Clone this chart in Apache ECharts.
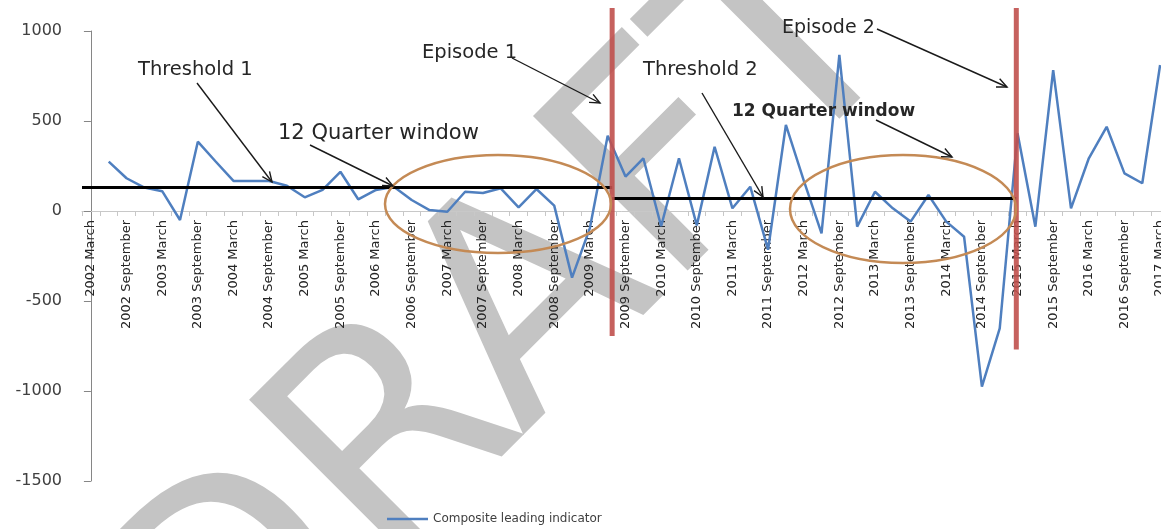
<!DOCTYPE html>
<html><head><meta charset="utf-8">
<script src="https://cdn.jsdelivr.net/npm/echarts@6/dist/echarts.min.js"></script>
<style>html,body{margin:0;padding:0;background:#fff}#c{width:1161px;height:529px}</style>
</head><body><div id="c"></div>
<script>
// ---- data ----
const years = [2002,2003,2004,2005,2006,2007,2008,2009,2010,2011,2012,2013,2014,2015,2016,2017];
const quarterMonths = ['March','June','September','December'];
const lastCategory = '2017 March';
const categories = [];
for (const y of years) { for (const m of quarterMonths) { if (categories[categories.length-1] !== lastCategory) categories.push(y + ' ' + m); } }

const seriesName = 'Composite leading indicator';
const compositeValues = [
  null, 274, 182, 130,      // 2002
  110, -50, 385, 275,       // 2003
  167, 167, 167, 140,       // 2004
  76, 117, 218, 65,         // 2005
  117, 135, 61, 5,          // 2006
  -4, 107, 100, 126,        // 2007
  20, 122, 30, -370,        // 2008
  -95, 418, 191, 293,       // 2009
  -85, 293, -80, 357,       // 2010
  15, 135, -215, 478,       // 2011
  170, -124, 867, -87,      // 2012
  107, 15, -59, 89,         // 2013
  -59, -143, -976, -652,    // 2014
  432, -87, 783, 15,        // 2015
  293, 468, 209, 154,       // 2016
  811                       // 2017
];
const yTicks = [-1500, -1000, -500, 0, 500, 1000];
// thresholds (value) and episode positions (category index)
const threshold1 = 131;
const threshold2 = 70;
const episode1Index = 29.25;
const episode2Index = 51.93;
const episode1Span = [1128, -695];
const episode2Span = [1128, -770];

// ---- chart ----
const chart = echarts.init(document.getElementById('c'), null, {renderer:'canvas'});
const FONT = '"DejaVu Sans", sans-serif';
const GRID = {left:82, top:31, height:450, catWidth:17.82};
const yMin = yTicks[0], yMax = yTicks[yTicks.length-1];
const zeroOffset = -GRID.height * (0 - yMin) / (yMax - yMin);

function arrow(x1, y1, x2, y2) {
  const a = Math.atan2(y2 - y1, x2 - x1), L = 11, s = 0.42;
  return [
    {type:'line', z:100, shape:{x1, y1, x2, y2}, style:{stroke:'#1a1a1a', lineWidth:1.4}},
    {type:'polyline', z:100, shape:{points:[[x2 - L*Math.cos(a - s), y2 - L*Math.sin(a - s)], [x2, y2], [x2 - L*Math.cos(a + s), y2 - L*Math.sin(a + s)]]},
     style:{stroke:'#1a1a1a', lineWidth:1.4, fill:'none'}}
  ];
}
function label(text, x, y, size, weight) {
  return {type:'text', z:100, x, y, style:{text, fontSize:size, fontFamily:FONT, fontWeight:weight || 'normal', fill:'#262626', align:'left', verticalAlign:'middle'}};
}

const graphics = [
  {type:'text', z:0, x:512, y:336, rotation:Math.PI/4, silent:true,
   style:{text:'DRAFT', fontSize:300, fontFamily:FONT, fill:'#C4C4C4', align:'center', verticalAlign:'middle'}},
  {type:'ellipse', z:90, shape:{cx:498, cy:204, rx:113, ry:49}, style:{fill:'rgba(0,0,0,0)', stroke:'#C48A55', lineWidth:2.5}},
  {type:'ellipse', z:90, shape:{cx:903, cy:209, rx:113, ry:54}, style:{fill:'rgba(0,0,0,0)', stroke:'#C48A55', lineWidth:2.5}},
  label('Threshold 1', 138, 70, 19.5),
  label('12 Quarter window', 278, 134, 21),
  label('Episode 1', 422, 53, 19.5),
  label('Threshold 2', 643, 70, 19.5),
  label('12 Quarter window', 732, 112, 17, 'bold'),
  label('Episode 2', 782, 28, 19),
  ...arrow(197, 83, 272, 182),
  ...arrow(310, 145, 393, 186),
  ...arrow(512, 58, 600, 103),
  ...arrow(702, 93, 763, 197),
  ...arrow(876, 120, 952, 157),
  ...arrow(877, 29, 1007, 87)
];

const nCat = categories.length;
const option = {
  backgroundColor:'#ffffff',
  animation:false,
  grid:{left:GRID.left, top:GRID.top, width:nCat*GRID.catWidth, height:GRID.height, containLabel:false, outerBoundsMode:'none'},
  legend:{
    data:[{name:seriesName, icon:'rect'}], left:382, top:508, itemWidth:41, itemHeight:2.5,
    textStyle:{fontFamily:FONT, fontSize:12, color:'#404040'}
  },
  xAxis:[
    {type:'category', data:categories, boundaryGap:true, position:'bottom', offset:zeroOffset,
     axisLine:{onZero:false, lineStyle:{color:'#C8C8C8', width:1}},
     axisTick:{show:true, interval:0, length:5, lineStyle:{color:'#C8C8C8'}},
     axisLabel:{interval:1, rotate:90, margin:9, fontFamily:FONT, fontSize:13, color:'#262626'},
     splitLine:{show:false}},
    {type:'value', min:-0.5, max:nCat - 0.5, show:false, splitLine:{show:false}}
  ],
  yAxis:{type:'value', min:yMin, max:yMax, interval:yTicks[1]-yTicks[0],
    axisLine:{show:true, lineStyle:{color:'#868686'}},
    axisTick:{show:true, length:7, lineStyle:{color:'#868686'}},
    axisLabel:{margin:20, fontFamily:FONT, fontSize:16, color:'#404040', formatter:(v) => String(v)},
    splitLine:{show:false}},
  series:[
    {name:seriesName, type:'line', data:compositeValues, symbol:'none', z:2,
     lineStyle:{color:'#4F7FBF', width:2.5}, itemStyle:{color:'#4F7FBF'}},
    {name:'Threshold 1', type:'line', xAxisIndex:1, symbol:'none', z:3, silent:true,
     data:[[-0.5, threshold1], [episode1Index, threshold1]], lineStyle:{color:'#000000', width:3}},
    {name:'Threshold 2', type:'line', xAxisIndex:1, symbol:'none', z:3, silent:true,
     data:[[episode1Index, threshold2], [episode2Index, threshold2]], lineStyle:{color:'#000000', width:3}},
    {name:'Episode 1', type:'line', xAxisIndex:1, symbol:'none', z:4, clip:false, silent:true,
     data:[[episode1Index, episode1Span[0]], [episode1Index, episode1Span[1]]], lineStyle:{color:'#C0504D', width:5, opacity:0.9}},
    {name:'Episode 2', type:'line', xAxisIndex:1, symbol:'none', z:4, clip:false, silent:true,
     data:[[episode2Index, episode2Span[0]], [episode2Index, episode2Span[1]]], lineStyle:{color:'#C0504D', width:5, opacity:0.9}}
  ],
  graphic:graphics
};
chart.setOption(option);
</script></body></html>
